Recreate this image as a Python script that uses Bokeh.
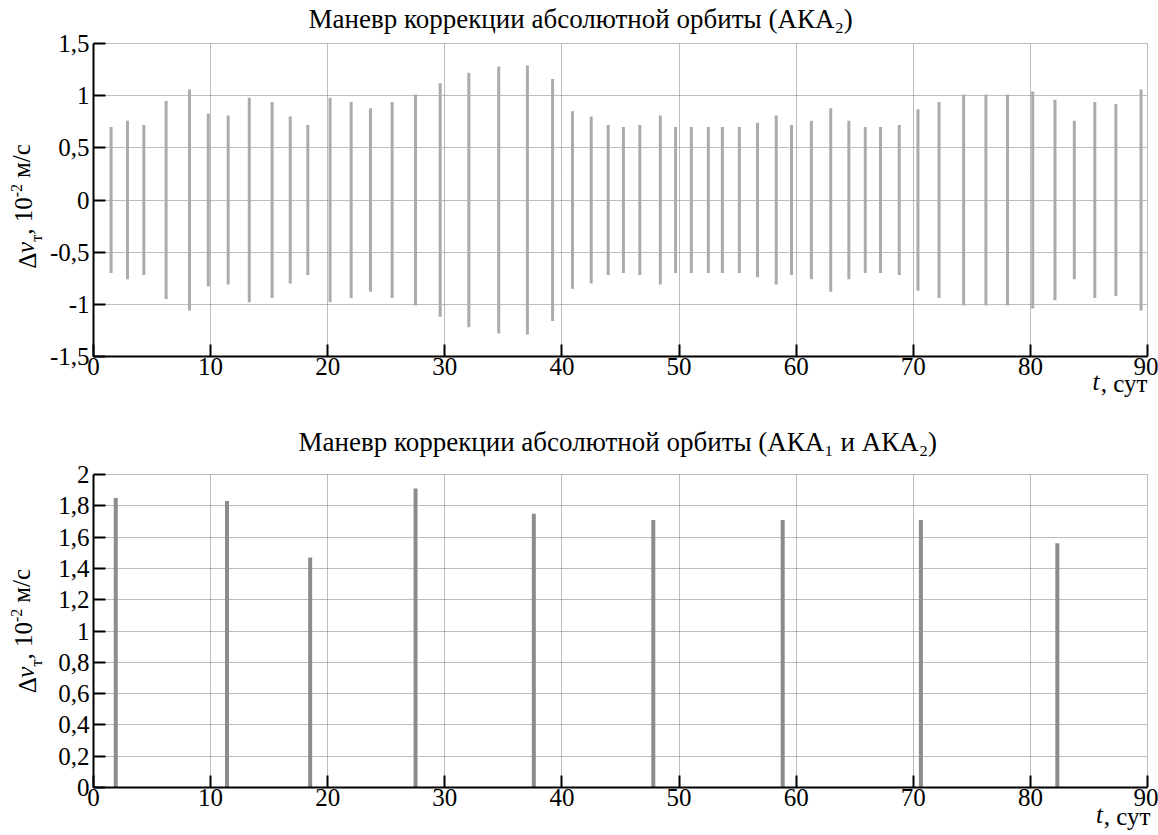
import numpy as np
from bokeh.plotting import figure
from bokeh.models import FixedTicker, Title, ColumnDataSource, Range1d, LinearAxis
from bokeh.layouts import column
from bokeh.embed import file_html
from bokeh.resources import INLINE

# ---------------- data ----------------
t_aka2 = [1.5, 2.9, 4.3, 6.2, 8.2, 9.8, 11.5, 13.3, 15.25, 16.8,
          18.3, 20.2, 22.0, 23.65, 25.5, 27.5, 29.6, 32.05, 34.6, 37.05,
          39.2, 40.9, 42.5, 43.95, 45.25, 46.65, 48.4, 49.7, 51.05, 52.5,
          53.7, 55.15, 56.7, 58.3, 59.6, 61.3, 62.95, 64.5, 65.9, 67.2,
          68.8, 70.4, 72.2, 74.3, 76.2, 78.05, 80.2, 82.1, 83.75, 85.5,
          87.3, 89.45]
dv_aka2 = [0.70, 0.76, 0.72, 0.95, 1.06, 0.83, 0.81, 0.98, 0.94, 0.80,
           0.72, 0.98, 0.94, 0.88, 0.94, 1.01, 1.12, 1.22, 1.28, 1.29,
           1.16, 0.85, 0.80, 0.72, 0.70, 0.72, 0.81, 0.70, 0.70, 0.70,
           0.70, 0.70, 0.74, 0.81, 0.72, 0.76, 0.88, 0.76, 0.70, 0.70,
           0.72, 0.87, 0.94, 1.01, 1.01, 1.01, 1.04, 0.96, 0.76, 0.94,
           0.92, 1.06]

t_both = [1.9, 11.4, 18.5, 27.5, 37.6, 47.8, 58.85, 70.65, 82.3]
dv_both = [1.85, 1.83, 1.47, 1.91, 1.75, 1.71, 1.71, 1.71, 1.56]

x_ticks = [0, 10, 20, 30, 40, 50, 60, 70, 80, 90]
y_ticks_top = [-1.5, -1.0, -0.5, 0.0, 0.5, 1.0, 1.5]
y_labels_top = ["-1,5", "-1", "-0,5", "0", "0,5", "1", "1,5"]
y_ticks_bot = [0.0, 0.2, 0.4, 0.6, 0.8, 1.0, 1.2, 1.4, 1.6, 1.8, 2.0]
y_labels_bot = ["0", "0,2", "0,4", "0,6", "0,8", "1", "1,2", "1,4", "1,6", "1,8", "2"]

title_top = "Маневр коррекции абсолютной орбиты (АКА₂)"
title_bot = "Маневр коррекции абсолютной орбиты (АКА₁ и АКА₂)"
# y label "Δv_т, 10^-2 м/с" in pieces: (text, kind)
y_label_parts = [("Δ", "big"), ("v", "italic"), ("т", "sub"), (", 10", "big"),
                 ("-2", "sup"), ("м/с", "big")]
x_label_var = "t"
x_label_unit = ", сут"

FONT = "Liberation Serif"
BIG = 25
SMALL = 16
TICK_FS = f"{BIG}px"
TITLE_FS = "27px"

FW, FH = 1054, 313
GRID_COLOR = "#7a7a7a"

# advance widths (px) of the y label pieces and the gap before "м/с"
PART_W = {"Δ": 15.3, "v": 11.1, "т": 7.0, ", 10": 37.5, "-2": 13.3, "м/с": 33.5}
GAP_BEFORE = {"м/с": 6.25}
TEXT_H = {"big": 28.0, "italic": 28.0, "sub": 18.0, "sup": 18.0}
# canvas x of the right edge of each piece's (rotated) text box
RIGHT_EDGE = {"big": 46.0, "italic": 46.0, "sub": 48.0, "sup": 35.0}


def style_label_axis(ax, standoff, fs, style="normal"):
    ax.axis_line_color = None
    ax.major_tick_line_color = None
    ax.minor_tick_line_color = None
    ax.major_tick_in = 0
    ax.major_tick_out = 0
    ax.minor_tick_in = 0
    ax.minor_tick_out = 0
    ax.major_label_standoff = int(round(standoff))
    ax.major_label_text_font = FONT
    ax.major_label_text_font_size = fs if isinstance(fs, str) else f"{fs}px"
    ax.major_label_text_font_style = style
    ax.major_label_text_color = "black"


def make_fig(y_ticks, y_labels, y_start, y_end, border_top, border_bottom,
             title, title_mode, title_standoff, xlab_pos, xlab_standoff, ytick_w, ylab_center):
    p = figure(frame_width=FW, frame_height=FH, output_backend="svg", toolbar_location=None,
               x_range=Range1d(0, 90), y_range=Range1d(y_start, y_end),
               min_border_left=93, min_border_right=11,
               min_border_top=border_top, min_border_bottom=border_bottom)
    p.background_fill_color = "white"
    p.border_fill_color = "white"
    p.outline_line_color = GRID_COLOR
    p.outline_line_dash = "1 1"
    p.outline_line_width = 1

    xax = p.below[0]
    yax = p.left[0]
    xax.ticker = FixedTicker(ticks=x_ticks)
    yax.ticker = FixedTicker(ticks=y_ticks)
    yax.major_label_overrides = {float(v): s for v, s in zip(y_ticks, y_labels)}
    xax.major_label_overrides = {v: str(v) for v in x_ticks}
    for ax in (xax, yax):
        ax.axis_line_color = "black"
        ax.axis_line_width = 2
        ax.major_tick_line_color = "black"
        ax.major_tick_line_width = 2
        ax.major_tick_in = 12
        ax.major_tick_out = 0
        ax.minor_tick_in = 0
        ax.minor_tick_out = 0
        ax.major_label_text_font = FONT
        ax.major_label_text_font_size = TICK_FS
        ax.major_label_text_color = "black"
    xax.major_label_standoff = 1
    yax.major_label_standoff = 4

    p.xgrid.ticker = FixedTicker(ticks=x_ticks)
    p.ygrid.ticker = FixedTicker(ticks=y_ticks)
    for g in (p.xgrid, p.ygrid):
        g.grid_line_color = GRID_COLOR
        g.grid_line_dash = "1 1"
        g.grid_line_width = 1

    if title_mode == "title":
        p.title = Title(text=title, align="left", offset=205, standoff=title_standoff,
                        vertical_align="bottom",
                        text_font=FONT, text_font_size=TITLE_FS, text_font_style="normal",
                        text_color="black")
    else:
        # title drawn as a label-only axis above the frame (tighter placement)
        c = title_mode
        ax_title = LinearAxis(ticker=FixedTicker(ticks=[c]), major_label_overrides={c: title})
        style_label_axis(ax_title, title_standoff, TITLE_FS, "normal")
        p.add_layout(ax_title, "above")

    # ---- x label "t, сут": two label-only axes ("t" italic, ", сут" upright)
    t_pos, unit_pos = xlab_pos
    ax_t = LinearAxis(ticker=FixedTicker(ticks=[t_pos]),
                      major_label_overrides={t_pos: x_label_var})
    ax_u = LinearAxis(ticker=FixedTicker(ticks=[unit_pos]),
                      major_label_overrides={unit_pos: x_label_unit})
    style_label_axis(ax_t, xlab_standoff, BIG, "italic")
    style_label_axis(ax_u, -TEXT_H["big"], BIG, "normal")
    p.add_layout(ax_t, "below")
    p.add_layout(ax_u, "below")

    # ---- y label in rotated pieces, one label-only axis per piece
    px_per_unit = FH / (y_end - y_start)
    total = sum(PART_W[t] + GAP_BEFORE.get(t, 0) for t, _ in y_label_parts)
    pos = 0.0
    centers = {}
    for txt, kind in y_label_parts:
        pos += GAP_BEFORE.get(txt, 0)
        centers[txt] = ylab_center + (pos + PART_W[txt] / 2 - total / 2) / px_per_unit
        pos += PART_W[txt]
    panel_end = 93 - 4 - ytick_w          # outer edge of the main y axis panel
    order = [p_ for p_ in y_label_parts if p_[1] == "sub"] + \
            [p_ for p_ in y_label_parts if p_[1] in ("big", "italic")] + \
            [p_ for p_ in y_label_parts if p_[1] == "sup"]
    used = 0.0
    for txt, kind in order:
        d = panel_end - RIGHT_EDGE[kind]
        so = d - used
        c = round(centers[txt], 4)
        ax = LinearAxis(ticker=FixedTicker(ticks=[c]), major_label_overrides={c: txt},
                        major_label_orientation="vertical")
        fs = SMALL if kind in ("sub", "sup") else BIG
        style_label_axis(ax, so, fs, "italic" if kind == "italic" else "normal")
        p.add_layout(ax, "left")
        used += max(round(so) + TEXT_H[kind], 0)
    return p


# ---------------- top ----------------
p1 = make_fig(y_ticks_top, y_labels_top, -1.5, 1.5, 42, 47, title_top, 41.6, 10,
              (85.6, 88.0), -10, 39.6, -0.06)
src1 = ColumnDataSource(dict(t=t_aka2, lo=[-v for v in dv_aka2], hi=dv_aka2))
p1.segment(x0="t", y0="lo", x1="t", y1="hi", source=src1, line_color="#ababab", line_width=3)

# ---------------- bottom ----------------
p2 = make_fig(y_ticks_bot, y_labels_bot, 0, 2, 71, 49, title_bot, "title", 36,
              (85.9, 88.25), -8, 31.25, 1.0)
src2 = ColumnDataSource(dict(t=t_both, lo=[0.0] * len(t_both), hi=dv_both))
p2.segment(x0="t", y0="lo", x1="t", y1="hi", source=src2, line_color="#8c8c8c", line_width=4)

layout = column(p1, p2, spacing=0)
open("out.html", "w").write(file_html(layout, INLINE))
